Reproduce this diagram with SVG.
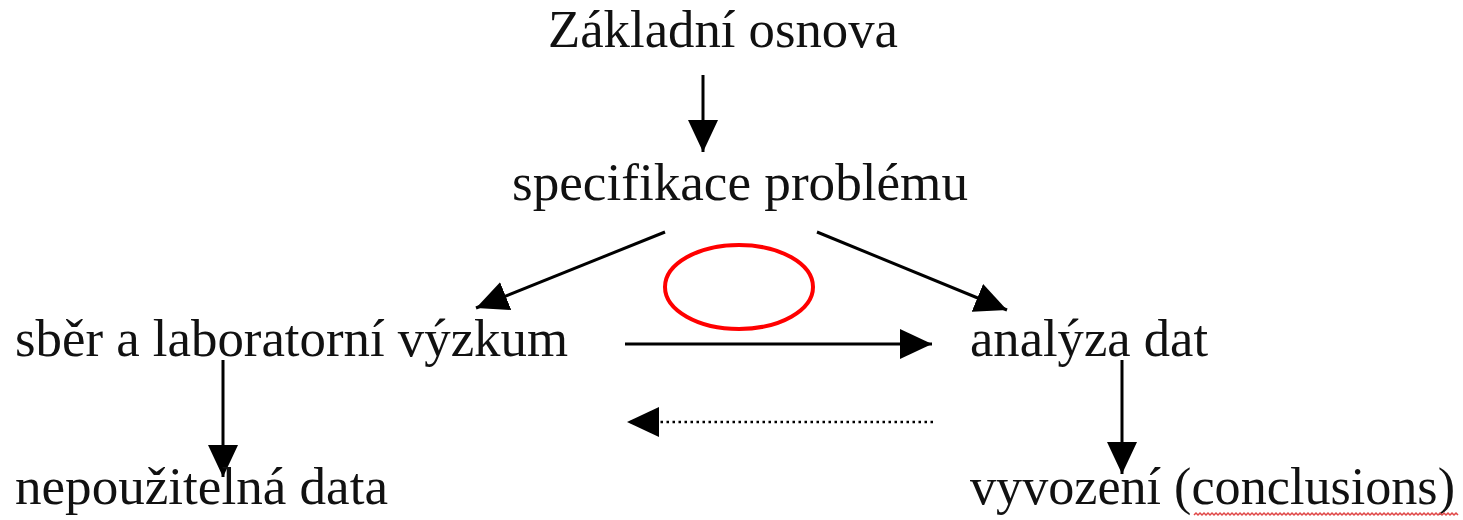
<svg xmlns="http://www.w3.org/2000/svg" width="1463" height="520" viewBox="0 0 1463 520">
  <style>
    .lbl { font-family: "Liberation Serif", "Times New Roman", serif; font-size: 53px; fill: #111; }
    .edge { stroke: #000; stroke-width: 3; fill: none; }
    .dotted { stroke: #000; stroke-width: 2.5; fill: none; stroke-dasharray: 2.5 3.5; }
  </style>
  <defs>
    <marker id="ah" markerUnits="userSpaceOnUse" markerWidth="32" markerHeight="30" refX="32" refY="15" orient="auto" viewBox="0 0 32 30">
      <path d="M0,0 L32,15 L0,30 Z" fill="#000"/>
    </marker>
  </defs>
  <rect width="1463" height="520" fill="#fff"/>

  <g id="connectors">
    <line class="edge" x1="703" y1="75" x2="703" y2="152" marker-end="url(#ah)"/>
    <line class="edge" x1="665" y1="232" x2="476" y2="308" marker-end="url(#ah)"/>
    <line class="edge" x1="817" y1="232" x2="1007" y2="310" marker-end="url(#ah)"/>
    <line class="edge" x1="625" y1="344" x2="932" y2="344" marker-end="url(#ah)"/>
    <line class="dotted" x1="933" y1="422" x2="627" y2="422" marker-end="url(#ah)"/>
    <line class="edge" x1="223" y1="360" x2="223" y2="477" marker-end="url(#ah)"/>
    <line class="edge" x1="1122" y1="360" x2="1122" y2="474" marker-end="url(#ah)"/>
  </g>

  <g id="node-zakladni-osnova">
    <text class="lbl" x="548" y="47" textLength="350" lengthAdjust="spacingAndGlyphs">Základní osnova</text>
  </g>
  <g id="node-specifikace">
    <text class="lbl" x="512" y="200" textLength="456" lengthAdjust="spacingAndGlyphs">specifikace problému</text>
  </g>
  <g id="node-sber">
    <text class="lbl" x="15" y="356" textLength="553" lengthAdjust="spacingAndGlyphs">sběr a laboratorní výzkum</text>
  </g>
  <g id="node-analyza">
    <text class="lbl" x="970" y="356" textLength="238" lengthAdjust="spacingAndGlyphs">analýza dat</text>
  </g>
  <g id="node-nepouzitelna">
    <text class="lbl" x="15" y="504" textLength="373" lengthAdjust="spacingAndGlyphs">nepoužitelná data</text>
  </g>
  <g id="node-vyvozeni">
    <text class="lbl" x="970" y="504" textLength="485" lengthAdjust="spacingAndGlyphs">vyvození (conclusions)</text>
    <path d="M1194,515 l2,-2 l2,2 l2,-2 l2,2 l2,-2 l2,2 l2,-2 l2,2 l2,-2 l2,2 l2,-2 l2,2 l2,-2 l2,2 l2,-2 l2,2 l2,-2 l2,2 l2,-2 l2,2 l2,-2 l2,2 l2,-2 l2,2 l2,-2 l2,2 l2,-2 l2,2 l2,-2 l2,2 l2,-2 l2,2 l2,-2 l2,2 l2,-2 l2,2 l2,-2 l2,2 l2,-2 l2,2 l2,-2 l2,2 l2,-2 l2,2 l2,-2 l2,2 l2,-2 l2,2 l2,-2 l2,2 l2,-2 l2,2 l2,-2 l2,2 l2,-2 l2,2 l2,-2 l2,2 l2,-2 l2,2 l2,-2 l2,2 l2,-2 l2,2 l2,-2 l2,2 l2,-2 l2,2 l2,-2 l2,2 l2,-2 l2,2 l2,-2 l2,2 l2,-2 l2,2 l2,-2 l2,2 l2,-2 l2,2 l2,-2 l2,2 l2,-2 l2,2 l2,-2 l2,2 l2,-2 l2,2 l2,-2 l2,2 l2,-2 l2,2 l2,-2 l2,2 l2,-2 l2,2 l2,-2 l2,2 l2,-2 l2,2 l2,-2 l2,2 l2,-2 l2,2 l2,-2 l2,2 l2,-2 l2,2 l2,-2 l2,2 l2,-2 l2,2 l2,-2 l2,2 l2,-2 l2,2 l2,-2 l2,2 l2,-2 l2,2 l2,-2 l2,2 l2,-2 l2,2 l2,-2 l2,2 l2,-2 l2,2 l2,-2 l2,2 l2,-2 l2,2" fill="none" stroke="#e04848" stroke-width="1.5"/>
  </g>

  <g id="highlight">
    <ellipse cx="739" cy="287" rx="74" ry="42" fill="none" stroke="#ff0000" stroke-width="4"/>
  </g>
</svg>
